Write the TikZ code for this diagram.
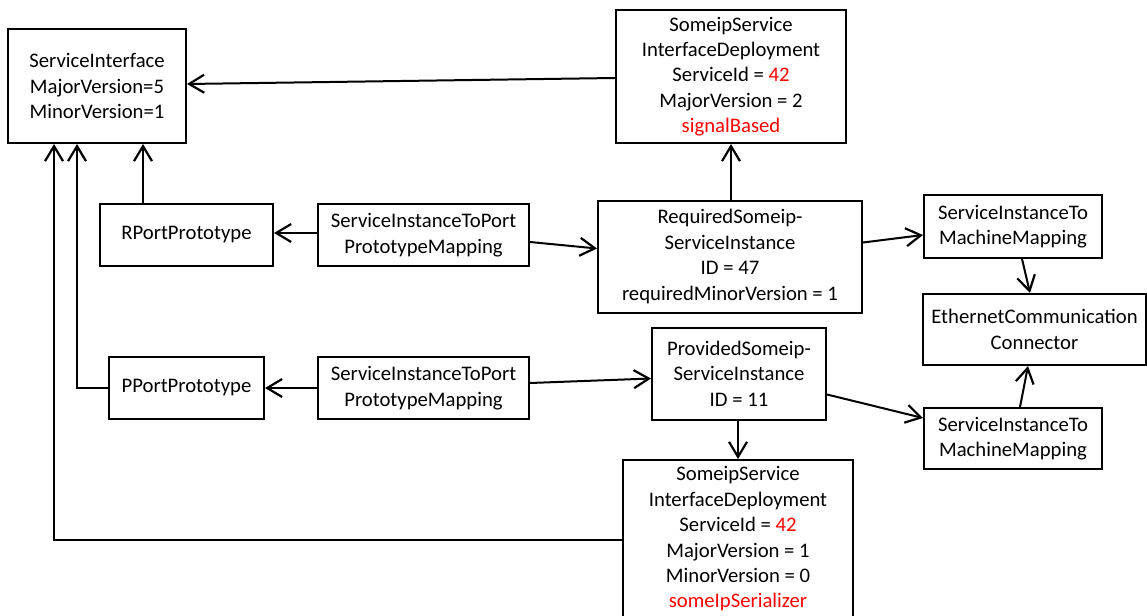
\documentclass[tikz,border=0pt]{standalone}
\usepackage{fontspec}
\setmainfont{Carlito}
\usetikzlibrary{arrows.meta}
\definecolor{hl}{RGB}{255,0,0}
\begin{document}
\begin{tikzpicture}[x=1pt,y=-1pt,
  box/.style={draw=black, line width=2pt, fill=white, align=center, inner sep=0pt,
    font=\fontsize{20.7}{25.4}\selectfont},
  arr/.style={draw=black, line width=2pt, -{Straight Barb[length=15pt,width=18pt,line width=2.2pt]}},
  ln/.style={draw=black, line width=2pt}]
\useasboundingbox (0,0) rectangle (1147,615);
\fill[white] (0,0) rectangle (1147,615);

\node[box, minimum width=178pt, minimum height=114pt] (SI) at (97,86)
  {ServiceInterface\\MajorVersion=5\\MinorVersion=1};
\node[box, minimum width=230pt, minimum height=133pt] (D1) at (731,76.5)
  {SomeipService\\InterfaceDeployment\\ServiceId = \textcolor{hl}{42}\\MajorVersion = 2\\\textcolor{hl}{signalBased}};
\node[box, minimum width=173pt, minimum height=62pt] (RP) at (186.5,235) {RPortPrototype};
\node[box, minimum width=211pt, minimum height=62pt] (M1) at (423.5,235)
  {ServiceInstanceToPort\\PrototypeMapping};
\node[box, minimum width=264pt, minimum height=112pt] (RQ) at (730,256.5)
  {RequiredSomeip-\\ServiceInstance\\ID = 47\\requiredMinorVersion = 1};
\node[box, minimum width=178pt, minimum height=63pt] (MM1) at (1013,226.5)
  {ServiceInstanceTo\\MachineMapping};
\node[box, minimum width=223pt, minimum height=71pt] (ECC) at (1034.5,329.5)
  {EthernetCommunication\\Connector};
\node[box, minimum width=178pt, minimum height=61pt] (MM2) at (1013,438.5)
  {ServiceInstanceTo\\MachineMapping};
\node[box, minimum width=155pt, minimum height=62pt] (PP) at (186.5,388) {PPortPrototype};
\node[box, minimum width=211pt, minimum height=62pt] (M2) at (423.5,388)
  {ServiceInstanceToPort\\PrototypeMapping};
\node[box, minimum width=174pt, minimum height=92pt] (PSI) at (739,373.5)
  {ProvidedSomeip-\\ServiceInstance\\ID = 11};
\node[box, minimum width=230pt, minimum height=158pt] (D2) at (738,539)
  {SomeipService\\InterfaceDeployment\\ServiceId = \textcolor{hl}{42}\\MajorVersion = 1\\MinorVersion = 0\\\textcolor{hl}{someIpSerializer}};

% connectors
\draw[arr] ([yshift=-1.5pt]D1.west) -- ([yshift=2pt]SI.east);
\draw[arr] (RQ.north -| D1.south) -- (D1.south);
\draw[arr] ([yshift=2pt]M1.west) -- ([yshift=2pt]RP.east);
\draw[arr] ([yshift=-7pt]M1.east) -- ([yshift=8pt]RQ.west);
\draw[arr] ([yshift=14pt]RQ.east) -- ([yshift=-8.5pt]MM1.west);
\draw[arr] ([xshift=9pt]MM1.south) -- ([xshift=-4.5pt]ECC.north);
\draw[arr] ([xshift=7pt]MM2.north) -- ([xshift=-6.5pt]ECC.south);
\draw[arr] ([xshift=-43.5pt]RP.north) -- ([xshift=-43.5pt]RP.north |- SI.south);
\draw[arr] (M2.west) -- (PP.east);
\draw[arr] ([yshift=5pt]M2.east) -- ([yshift=-5pt]PSI.west);
\draw[arr] ([yshift=-21pt]PSI.east) -- ([yshift=20.5pt]MM2.west);
\draw[arr] (PSI.south -| D2.north) -- (D2.north);
\draw[arr] (PP.west) -| ([xshift=-20pt]SI.south);
\draw[arr] ([yshift=-1pt]D2.west) -| ([xshift=-43pt]SI.south);
\end{tikzpicture}
\end{document}
